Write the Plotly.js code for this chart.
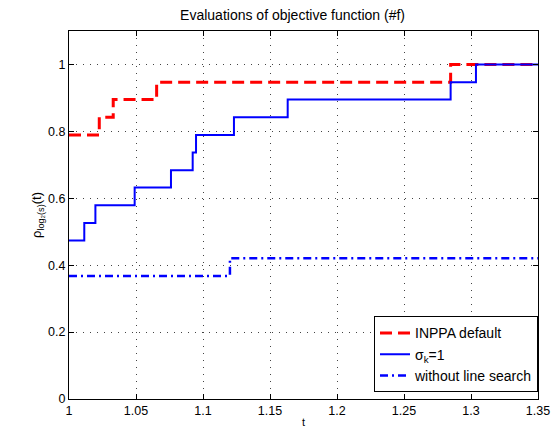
<!DOCTYPE html>
<html><head><meta charset="utf-8">
<script src="https://cdn.plot.ly/plotly-3.0.1.min.js"></script>
<style>html,body{margin:0;padding:0;background:#fff}#c{width:553px;height:432px}</style>
</head><body><div id="c"></div>
<script>
// INPPA default
const inppaT = [1, 1.0226, 1.033, 1.0654, 1.2848, 1.35];
const inppaRho = [0.789, 0.842, 0.895, 0.947, 1.0, 1.0];
// sigma_k = 1
const sigmaT = [1, 1.0114, 1.0197, 1.049, 1.0761, 1.0923, 1.0948, 1.1231, 1.1632, 1.2848, 1.3037, 1.35];
const sigmaRho = [0.474, 0.526, 0.579, 0.632, 0.684, 0.737, 0.789, 0.842, 0.895, 0.947, 1.0, 1.0];
// without line search
const nolsT = [1, 1.1201, 1.35];
const nolsRho = [0.368, 0.421, 0.421];

const xTicks = [1, 1.05, 1.1, 1.15, 1.2, 1.25, 1.3, 1.35];
const yTicks = [0, 0.2, 0.4, 0.6, 0.8, 1];

const FONT = 'Liberation Sans, Arial, sans-serif';

const traces = [
  {x: inppaT, y: inppaRho, name: 'INPPA default', mode: 'lines', line: {shape: 'hv', color: '#ff0000', width: 3, dash: '12px,6px'}},
  {x: sigmaT, y: sigmaRho, name: 'σ<sub>k</sub>=1', mode: 'lines', line: {shape: 'hv', color: '#0000ff', width: 2}},
  {x: nolsT, y: nolsRho, name: 'without line search', mode: 'lines', line: {shape: 'hv', color: '#0000ff', width: 2.5, dash: '8px,4px,2px,4px'}}
];

const axisCommon = {
  showline: true, linecolor: '#000', linewidth: 1, mirror: 'ticks',
  ticks: 'inside', ticklen: 5, tickcolor: '#000',
  showgrid: true, gridcolor: '#444', griddash: '1px,6px', gridwidth: 1,
  zeroline: false, tickfont: {family: FONT, size: 12.5, color: '#000'}
};

const layout = {
  width: 553, height: 432,
  margin: {l: 69, r: 15, t: 31, b: 33},
  paper_bgcolor: '#fff', plot_bgcolor: '#fff',
  font: {family: FONT, color: '#000'},
  title: {text: 'Evaluations of objective function (#f)', font: {family: FONT, size: 14, color: '#000'},
          xref: 'container', x: 0.529, xanchor: 'center', yref: 'container', y: 0.965, yanchor: 'middle'},
  xaxis: Object.assign({}, axisCommon, {range: [1, 1.35], tickvals: xTicks, ticktext: xTicks.map(String),
          title: {text: 't', font: {family: FONT, size: 11, color: '#000'}, standoff: 1}}),
  yaxis: Object.assign({}, axisCommon, {range: [0, 1.1], tickvals: yTicks, ticktext: yTicks.map(String),
          title: {text: 'ρ<sub>log₂(s)</sub>(t)', font: {family: FONT, size: 13, color: '#000'}, standoff: 3}}),
  showlegend: true,
  legend: {x: 1, xanchor: 'right', y: 0.018, yanchor: 'bottom', bgcolor: '#fff', bordercolor: '#000', borderwidth: 1,
           font: {family: FONT, size: 14, color: '#000'}, tracegroupgap: 0}
};

Plotly.newPlot('c', traces, layout, {staticPlot: true});
</script></body></html>
